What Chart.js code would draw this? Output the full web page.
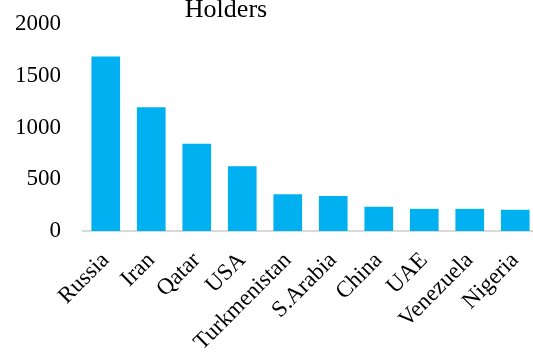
<!DOCTYPE html>
<html>
<head>
<meta charset="utf-8">
<script src="https://cdn.jsdelivr.net/npm/chart.js@4"></script>
<style>
    html, body { margin: 0; padding: 0; background: #fff; overflow: hidden; }
    #wrap { position: relative; width: 540px; height: 352px; }
</style>
</head>
<body>
<div id="wrap"><canvas id="gasChart"></canvas></div>
<script>
// ==================== DATA ====================
const countries = ['Russia', 'Iran', 'Qatar', 'USA', 'Turkmenistan', 'S.Arabia', 'China', 'UAE', 'Venezuela', 'Nigeria'];
const reserves = [1686, 1195, 843, 625, 356, 337, 234, 214, 214, 205];
const yTicks = [0, 500, 1000, 1500, 2000];
const titleText = 'Holders';

const serif = "'Liberation Serif', serif";

// title is cut at the top of the picture, only its last line shows
const titlePlugin = {
    id: 'cutTitle',
    afterDraw(chart) {
        const ctx = chart.ctx;
        ctx.save();
        ctx.font = "26px 'Liberation Serif', serif";
        ctx.fillStyle = '#000';
        ctx.textAlign = 'center';
        ctx.textBaseline = 'alphabetic';
        ctx.fillText(titleText, 226, 17);
        ctx.restore();
    }
};

new Chart(document.getElementById('gasChart'), {
    type: 'bar',
    data: {
        labels: countries,
        datasets: [{
            data: reserves,
            backgroundColor: '#00B0F0',
            borderWidth: 0,
            categoryPercentage: 1,
            barPercentage: 0.63
        }]
    },
    options: {
        responsive: true,
        maintainAspectRatio: false,
        animation: false,
        layout: { padding: { left: 15, right: 2, top: 0, bottom: 2 } },
        plugins: {
            legend: { display: false },
            tooltip: { enabled: false }
        },
        scales: {
            x: {
                grid: { display: false, drawTicks: false },
                border: { color: '#D9D9D9', width: 2 },
                ticks: {
                    color: '#000',
                    font: { family: serif, size: 23 },
                    maxRotation: 45,
                    minRotation: 45,
                    autoSkip: false,
                    padding: 16
                },
                afterFit: s => {
                    s.paddingLeft = 0;
                    s.paddingRight = 0;
                    s.height = 119;
                }
            },
            y: {
                min: yTicks[0],
                max: yTicks[yTicks.length - 1],
                afterBuildTicks: axis => { axis.ticks = yTicks.map(v => ({ value: v })); },
                grid: { display: false, drawTicks: false },
                border: { display: false },
                ticks: {
                    color: '#000',
                    font: { family: serif, size: 23 },
                    padding: 22,
                    callback: v => String(v)
                },
                afterFit: s => {
                    // chart.js keeps the tick padding on both sides, drop the outer one
                    s.width -= 22;
                    s.paddingTop = 24;
                }
            }
        }
    },
    plugins: [titlePlugin]
});
</script>
</body>
</html>
